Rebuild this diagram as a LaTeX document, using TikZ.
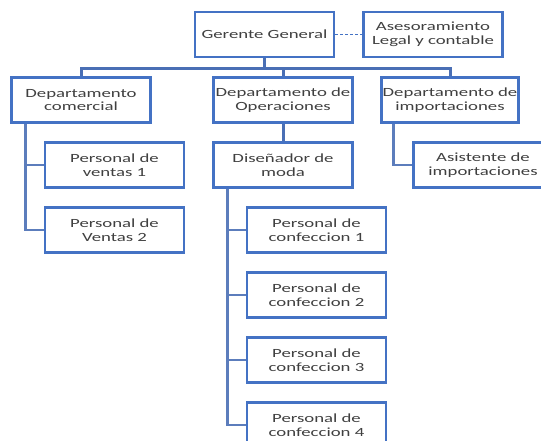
\documentclass[tikz,border=0pt]{standalone}
\usepackage{fontspec}
\setmainfont{Carlito}[FakeStretch=1.5]
\usepackage{xcolor}
\usetikzlibrary{backgrounds}
\definecolor{boxblue}{HTML}{4472C4}
\definecolor{linkblue}{HTML}{4A6FB5}
\definecolor{txtgray}{HTML}{404040}

\begin{document}
\begin{tikzpicture}[x=1pt,y=-1pt,
nodes={align=center},
unit/.style={draw=boxblue,line width=2.5pt,fill=white,text=txtgray,
	minimum width=139pt,minimum height=45pt,inner sep=1pt,
	font=\fontsize{12.5}{13.5}\selectfont},
link/.style={draw=linkblue,line width=3pt},
staff/.style={draw=linkblue!90!white,line width=2.8pt}]

\useasboundingbox (0,0) rectangle (541,441);

% Nodes
\node[unit] (gg) at (264.5,34.5) {Gerente General};
\node[unit] (aseso) at (433,34.5) {Asesoramiento\\Legal y contable};
\node[unit] (comercial) at (81,100) {Departamento\\comercial};
\node[unit] (operaciones) at (283,100) {Departamento de\\Operaciones};
\node[unit,minimum width=136pt] (importaciones) at (450,100) {Departamento de\\importaciones};
\node[unit] (ventas1) at (114.5,165) {Personal de\\ventas 1};
\node[unit] (ventas2) at (114.5,230) {Personal de\\Ventas 2};
\node[unit] (disenador) at (283,165) {Diseñador de\\moda};
\foreach \i/\y in {1/230,2/295,3/360,4/425}
	\node[unit] (conf\i) at (316.5,\y) {Personal de\\confeccion \i};
\node[unit] (asistente) at (483,165) {Asistente de\\importaciones};

% Connectors
\begin{scope}[on background layer]
\draw[densely dashed,draw=boxblue,line width=1pt] (gg.east) -- (aseso.west);
\draw[link] (gg.south) -- ++(0,10) coordinate (bus);
\draw[link] (comercial.north) |- (bus) -| (importaciones.north);
\draw[link] (operaciones.north) -- (operaciones.north |- bus);
\draw[link] (operaciones.south) -- (disenador.north);
%	side branches
\foreach \n in {ventas1,ventas2}
	\draw[staff] ([xshift=15pt]comercial.south west) |- (\n.west);
\foreach \i in {1,...,4}
	\draw[staff] ([xshift=15pt]disenador.south west) |- (conf\i.west);
\draw[staff] ([xshift=13pt]importaciones.south west) |- (asistente.west);
\end{scope}

\end{tikzpicture}
\end{document}
